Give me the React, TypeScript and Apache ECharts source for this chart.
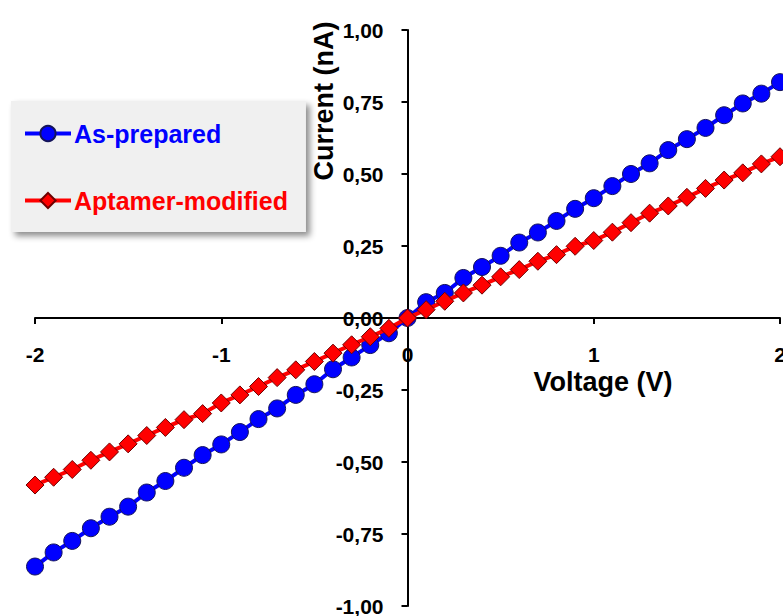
import React, { useEffect, useRef } from "react";
import * as echarts from "echarts";

const voltage = [
  -2.0, -1.9, -1.8, -1.7, -1.6, -1.5, -1.4, -1.3, -1.2, -1.1, -1.0, -0.9, -0.8, -0.7, -0.6, -0.5, -0.4, -0.3, -0.2, -0.1,
  0.0, 0.1, 0.2, 0.3, 0.4, 0.5, 0.6, 0.7, 0.8, 0.9, 1.0, 1.1, 1.2, 1.3, 1.4, 1.5, 1.6, 1.7, 1.8, 1.9, 2.0,
];

const asPrepared = [
  -0.863, -0.814, -0.774, -0.73, -0.69, -0.655, -0.606, -0.566, -0.52, -0.476, -0.439, -0.396, -0.351, -0.314, -0.267,
  -0.23, -0.178, -0.137, -0.094, -0.053, 0.0, 0.055, 0.087, 0.139, 0.177, 0.216, 0.262, 0.297, 0.337, 0.379, 0.416,
  0.458, 0.5, 0.537, 0.583, 0.621, 0.66, 0.704, 0.745, 0.779, 0.819,
];

const aptamerModified = [
  -0.58, -0.553, -0.526, -0.494, -0.465, -0.437, -0.408, -0.38, -0.353, -0.332, -0.295, -0.267, -0.238, -0.207, -0.18,
  -0.151, -0.122, -0.093, -0.065, -0.036, 0.0, 0.029, 0.058, 0.087, 0.114, 0.143, 0.168, 0.197, 0.22, 0.249, 0.269,
  0.298, 0.331, 0.364, 0.389, 0.419, 0.45, 0.479, 0.504, 0.535, 0.56,
];

const seriesNames = ["As-prepared", "Aptamer-modified"];
const xAxisTitle = "Voltage (V)";
const yAxisTitle = "Current (nA)";

const FONT = "'Liberation Sans', Arial, sans-serif";
const W = 783;
const H = 616;
const GRID = { left: 35, right: 3, top: 30, bottom: 10 };

export default function App() {
  const ref = useRef<HTMLDivElement>(null);

  useEffect(() => {
    if (!ref.current) return;
    const chart = echarts.init(ref.current, undefined, { renderer: "svg" });
    const pair = (ys: number[]) => voltage.map((v, i) => [v, ys[i]]);
    const plotW = W - GRID.left - GRID.right;
    const plotH = H - GRID.top - GRID.bottom;
    chart.setOption({
      animation: false,
      backgroundColor: "#ffffff",
      grid: { ...GRID, containLabel: false, outerBoundsMode: "none" },
      xAxis: {
        type: "value",
        min: -2,
        max: 2,
        interval: 1,
        position: "bottom",
        offset: -plotH / 2,
        axisLine: { onZero: false, lineStyle: { color: "#000", width: 2 } },
        axisTick: { show: true, inside: false, length: 6, lineStyle: { color: "#000", width: 2 } },
        axisLabel: {
          margin: 26,
          color: "#000",
          fontSize: 21,
          fontWeight: "bold",
          fontFamily: FONT,
          showMinLabel: true,
          showMaxLabel: true,
          hideOverlap: false,
        },
        splitLine: { show: false },
      },
      yAxis: {
        type: "value",
        min: -1,
        max: 1,
        interval: 0.25,
        position: "left",
        offset: -plotW / 2,
        axisLine: { onZero: false, lineStyle: { color: "#000", width: 2 } },
        axisTick: { show: true, inside: false, length: 6, lineStyle: { color: "#000", width: 2 } },
        axisLabel: {
          margin: 24,
          color: "#000",
          fontSize: 21,
          fontWeight: "bold",
          fontFamily: FONT,
          showMinLabel: true,
          showMaxLabel: true,
          hideOverlap: false,
          formatter: (v: number) => v.toFixed(2).replace(".", ","),
        },
        splitLine: { show: false },
      },
      legend: {
        orient: "vertical",
        left: 11,
        top: 101,
        padding: [20, 18, 19, 12],
        itemGap: 42,
        itemWidth: 46,
        itemHeight: 19,
        backgroundColor: "#f0f0f0",
        shadowBlur: 6,
        shadowColor: "rgba(0,0,0,0.45)",
        shadowOffsetX: 4,
        shadowOffsetY: 4,
        lineStyle: { width: 4 },
        textStyle: { fontSize: 25, fontWeight: "bold", fontFamily: FONT, padding: [0, 0, 0, -2] },
        data: [
          { name: seriesNames[0], textStyle: { color: "#0000ff" } },
          { name: seriesNames[1], textStyle: { color: "#ff0000" } },
        ],
      },
      graphic: [
        {
          type: "text",
          x: 603,
          y: 382,
          style: {
            text: xAxisTitle,
            align: "center",
            verticalAlign: "middle",
            fill: "#000",
            font: `bold 27px ${FONT}`,
          },
        },
        {
          type: "text",
          x: 324,
          y: 101,
          rotation: Math.PI / 2,
          style: {
            text: yAxisTitle,
            align: "center",
            verticalAlign: "middle",
            fill: "#000",
            font: `bold 27px ${FONT}`,
          },
        },
      ],
      series: [
        {
          name: seriesNames[0],
          type: "line",
          data: pair(asPrepared),
          symbol: "circle",
          symbolSize: 17,
          clip: false,
          lineStyle: { color: "#0000ff", width: 4 },
          itemStyle: { color: "#0000ff", borderColor: "#14145a", borderWidth: 1 },
          z: 2,
        },
        {
          name: seriesNames[1],
          type: "line",
          data: pair(aptamerModified),
          symbol: "diamond",
          symbolSize: 18,
          clip: false,
          lineStyle: { color: "#ff0000", width: 4 },
          itemStyle: { color: "#ff0000", borderColor: "#6e0000", borderWidth: 1 },
          z: 3,
        },
      ],
    });
    return () => chart.dispose();
  }, []);

  return (
    <div
      ref={ref}
      style={{ position: "fixed", left: 0, top: 0, width: W, height: H, background: "#fff" }}
    />
  );
}
